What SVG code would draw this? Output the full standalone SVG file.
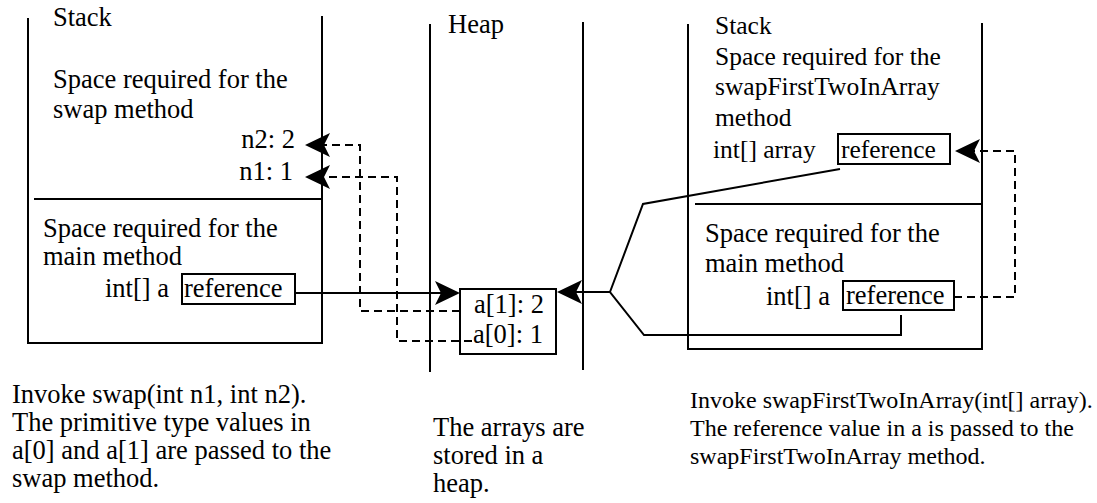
<svg xmlns="http://www.w3.org/2000/svg" width="1097" height="503" viewBox="0 0 1097 503">
<style>
  .t { font-family: "Liberation Serif", "Times New Roman", serif; fill: #000; }
  .s26 { font-size: 26.5px; }
  .s25 { font-size: 25.5px; }
  .s24 { font-size: 24px; }
  .ln { stroke: #000; stroke-width: 2; fill: none; }
  .box { stroke: #000; stroke-width: 2; fill: #fff; }
  .dash { stroke: #000; stroke-width: 2; fill: none; stroke-dasharray: 8 5; }
</style>
<defs>
  <marker id="arr" markerUnits="userSpaceOnUse" markerWidth="30" markerHeight="26" viewBox="-26 -13 30 26" refX="0" refY="0" orient="auto">
    <path d="M4,0 L-21,-12 L-15,0 L-21,12 Z" fill="#000"/>
  </marker>
</defs>
<rect width="1097" height="503" fill="#fff"/>

<g id="left-stack">
  <path class="ln" d="M28,18 V343 H322 V16"/>
  <line class="ln" x1="34" y1="199" x2="322" y2="199"/>
  <text class="t s26" x="53" y="26">Stack</text>
  <text class="t s26" x="53" y="88">Space required for the</text>
  <text class="t s26" x="53" y="118">swap method</text>
  <text class="t s26" x="295" y="148" text-anchor="end">n2: 2</text>
  <text class="t s26" x="293" y="180" text-anchor="end">n1: 1</text>
  <text class="t s26" x="43" y="237">Space required for the</text>
  <text class="t s26" x="43" y="265">main method</text>
  <text class="t s26" x="105" y="297">int[] a</text>
</g>
<g id="left-ref">
  <rect class="box" x="182" y="274" width="113" height="30"/>
  <text class="t s26" x="184" y="297">reference</text>
</g>

<g id="heap">
  <line class="ln" x1="430" y1="24" x2="430" y2="372"/>
  <line class="ln" x1="583" y1="22" x2="583" y2="370"/>
  <text class="t s26" x="448" y="33">Heap</text>
</g>
<g id="array">
  <rect class="box" x="460" y="289" width="96" height="65"/>
  <text class="t s26" x="474" y="313">a[1]: 2</text>
  <text class="t s26" x="473" y="343">a[0]: 1</text>
</g>

<g id="right-stack">
  <path class="ln" d="M688,24 V349 H982 V23"/>
  <line class="ln" x1="695" y1="204" x2="982" y2="204"/>
  <text class="t s25" x="715" y="34">Stack</text>
  <text class="t s25" x="715" y="65">Space required for the</text>
  <text class="t s25" x="715" y="95">swapFirstTwoInArray</text>
  <text class="t s25" x="715" y="126">method</text>
  <text class="t s25" x="713" y="158">int[] array</text>
  <text class="t s26" x="705" y="242">Space required for the</text>
  <text class="t s26" x="705" y="272">main method</text>
  <text class="t s26" x="766" y="305">int[] a</text>
</g>
<g id="right-ref-top">
  <rect class="box" x="838" y="134" width="112" height="30"/>
  <text class="t s25" x="841" y="158">reference</text>
</g>
<g id="right-ref-main">
  <rect class="box" x="843" y="281" width="111" height="29"/>
  <text class="t s26" x="846" y="304">reference</text>
</g>

<g id="captions">
  <text class="t s26" x="12" y="403">Invoke swap(int n1, int n2).</text>
  <text class="t s26" x="12" y="431">The primitive type values in</text>
  <text class="t s26" x="12" y="459">a[0] and a[1] are passed to  the</text>
  <text class="t s26" x="12" y="487">swap method.</text>
  <text class="t s26" x="433" y="436">The arrays are</text>
  <text class="t s26" x="433" y="464">stored in a</text>
  <text class="t s26" x="433" y="492">heap.</text>
  <text class="t s24" x="690" y="408">Invoke swapFirstTwoInArray(int[] array).</text>
  <text class="t s24" x="690" y="436">The reference value in a is passed to  the</text>
  <text class="t s24" x="690" y="464">swapFirstTwoInArray method.</text>
</g>

<g id="connectors">
  <line class="ln" x1="295" y1="293" x2="456" y2="293" marker-end="url(#arr)"/>
  <line class="ln" x1="610" y1="292" x2="561" y2="292" marker-end="url(#arr)"/>
  <path class="dash" d="M460,311 H360 V145 H309" marker-end="url(#arr)"/>
  <path class="dash" d="M472,341 H397 V177 H309" marker-end="url(#arr)"/>
  <path class="dash" d="M954,297 H1015 V151 H959" marker-end="url(#arr)"/>
  <path class="ln" d="M840,169 L643,204 L610,292 L644,335 H901 V315"/>
</g>
</svg>
